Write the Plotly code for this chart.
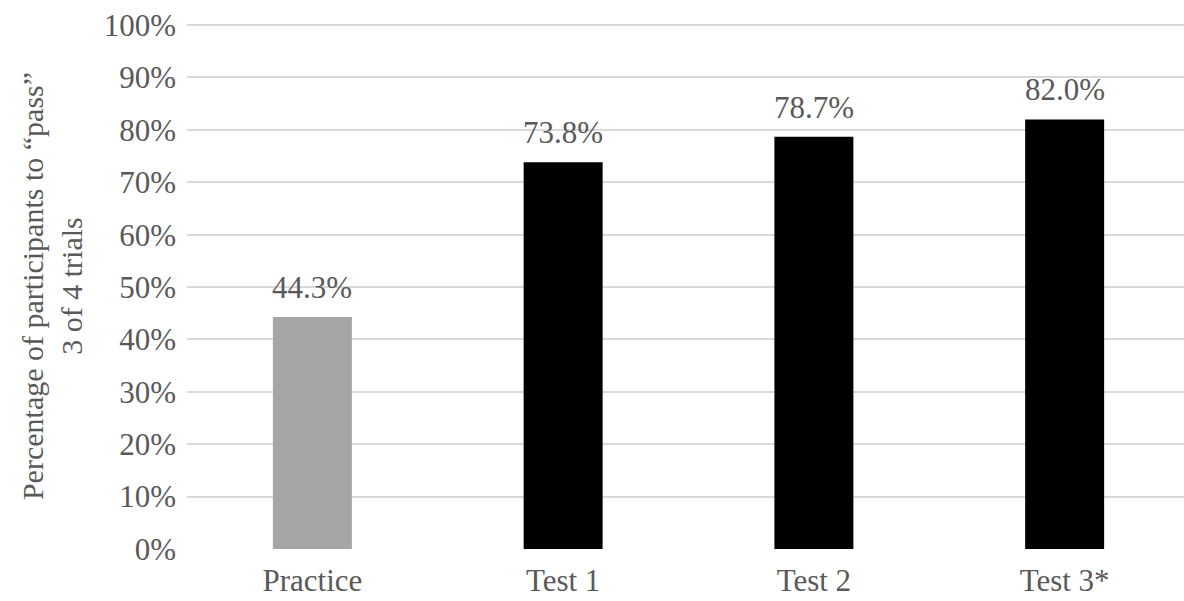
import plotly.graph_objects as go

categories = ["Practice", "Test 1", "Test 2", "Test 3*"]
pass_rates = [44.3, 73.8, 78.7, 82.0]
bar_colors = ["#a5a5a5", "#000000", "#000000", "#000000"]
y_ticks = list(range(0, 101, 10))
y_tick_labels = [f"{t}%" for t in y_ticks]

FONT = "Liberation Serif"
TEXT = "#595959"
SIZE = 31

fig = go.Figure(
    go.Bar(
        x=categories,
        y=pass_rates,
        marker=dict(color=bar_colors, line=dict(width=0)),
        width=0.315,
        hoverinfo="skip",
    )
)

for cat, val in zip(categories, pass_rates):
    fig.add_annotation(
        x=cat, y=val, text=f"{val:.1f}%",
        showarrow=False, yanchor="bottom", yshift=10,
        font=dict(family=FONT, size=SIZE, color=TEXT),
    )

fig.update_layout(
    width=1184, height=601,
    margin=dict(l=187, r=0, t=23, b=52),
    plot_bgcolor="white", paper_bgcolor="white",
    showlegend=False,
    font=dict(family=FONT, size=SIZE, color=TEXT),
)
fig.update_xaxes(
    range=[-0.5, 3.476],
    showgrid=False, zeroline=False, showline=False,
    ticks="", ticklabelstandoff=10,
    tickfont=dict(family=FONT, size=SIZE, color=TEXT),
)
fig.update_yaxes(
    range=[0, 100.4],
    tickvals=y_ticks, ticktext=y_tick_labels,
    showgrid=True, gridcolor="#d9d9d9", gridwidth=1.5,
    zeroline=False, showline=False, ticks="",
    ticklabelstandoff=10,
    tickfont=dict(family=FONT, size=SIZE, color=TEXT),
    title=dict(
        text="Percentage of participants to “pass”<br>3 of 4 trials",
        font=dict(family=FONT, size=30, color=TEXT),
        standoff=12,
    ),
)

fig.write_html("out.html")
